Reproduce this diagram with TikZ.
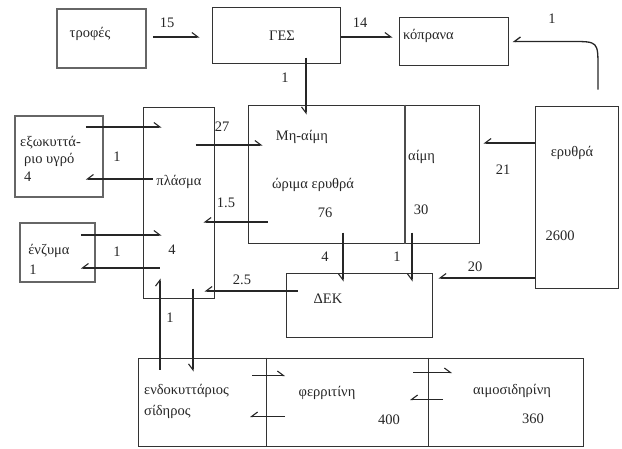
\documentclass[tikz,border=0pt]{standalone}
\usepackage{fontspec}
\setmainfont{Liberation Serif}
\usetikzlibrary{arrows.meta,calc}
\begin{document}
\begin{tikzpicture}[x=1pt,y=-1pt,
  box/.style={draw=black!80, line width=1pt, inner sep=0pt},
  gbox/.style={draw=black!60, line width=1.6pt, inner sep=0pt},
  arrL/.style={draw=black!85, line width=1.1pt, -{Straight Barb[harpoon,length=6pt,width=9pt]}},
  arrR/.style={draw=black!85, line width=1.1pt, -{Straight Barb[harpoon,swap,length=6pt,width=9pt]}},
  lab/.style={font=\fontsize{14.5}{16}\selectfont, inner sep=0pt, text=black!85}]
\useasboundingbox (0,0) rectangle (622,448);
% boxes
\node[gbox, minimum width=89pt, minimum height=59pt] (troph) at (101.5,38.5) {};
\node[box, minimum width=128pt, minimum height=56pt] (ges) at (276,35) {};
\node[box, minimum width=109pt, minimum height=48pt] (kop) at (453.5,41) {};
\node[gbox, minimum width=88pt, minimum height=81pt] (exo) at (59,156.5) {};
\node[box, minimum width=71pt, minimum height=191pt] (plasma) at (178.5,202.5) {};
\node[box, minimum width=231pt, minimum height=138pt] (big) at (363.5,174) {};
\node[gbox, minimum width=75pt, minimum height=59pt] (enz) at (57.5,252.5) {};
\node[box, minimum width=146pt, minimum height=64pt] (dek) at (359,305) {};
\node[box, minimum width=83pt, minimum height=182pt] (eryth) at (576.5,197) {};
\node[box, minimum width=445pt, minimum height=88pt] (bot) at (360.5,402) {};
% dividers
\draw[black!70, line width=1.6pt] (big.north -| 405,0) -- (big.south -| 405,0);
\coordinate (d1) at (bot.north -| 266,0);
\coordinate (d2) at (bot.north -| 428,0);
\draw[black!80, line width=1pt] (d1) -- (bot.south -| d1);
\draw[black!80, line width=1pt] (d2) -- (bot.south -| d2);
% texts
\node[lab] (tTroph) at (90,34) {τροφές};
\node[lab] (tGes) at (282,36) {ΓΕΣ};
\node[lab, anchor=west] (tKop) at (403,36) {κόπρανα};
\node[lab, anchor=west] (tExo1) at (20,143) {εξωκυττά-};
\node[lab, anchor=west] (tExo2) at (24,160) {ριο υγρό};
\node[lab, anchor=west] (tExo3) at (24,177) {4};
\node[lab] (tPlasma) at (179,182) {πλάσμα};
\node[lab] (tPl4) at (172,250) {4};
\node[lab] (tEnz) at (49,251) {ένζυμα};
\node[lab] (tEnz1) at (33,270) {1};
\node[lab] (tMh) at (302,137) {Μη-αίμη};
\node[lab] (tOr) at (313,185) {ώριμα ερυθρά};
\node[lab] (t76) at (325,213) {76};
\node[lab, anchor=west] (tAimi) at (408,157) {αίμη};
\node[lab] (t30) at (421,210) {30};
\node[lab] (tEr) at (572,153) {ερυθρά};
\node[lab] (t2600) at (560,236) {2600};
\node[lab] (tDek) at (328,299) {ΔΕΚ};
\node[lab, anchor=west] (tEnd1) at (144,391) {ενδοκυττάριος};
\node[lab, anchor=west] (tEnd2) at (144,412) {σίδηρος};
\node[lab] (tFer) at (327,393) {φερριτίνη};
\node[lab] (t400) at (389,420) {400};
\node[lab] (tAim) at (512,391) {αιμοσιδηρίνη};
\node[lab] (t360) at (533,419) {360};
% flow labels
\node[lab] (l15) at (167,23) {15};
\node[lab] (l14) at (360,23) {14};
\node[lab] (l1a) at (552,19) {1};
\node[lab] (l1b) at (285,78) {1};
\node[lab] (l27) at (222,127) {27};
\node[lab] (l1c) at (117,157) {1};
\node[lab] (l15b) at (226,203) {1.5};
\node[lab] (l1d) at (117,252) {1};
\node[lab] (l25) at (242,280) {2.5};
\node[lab] (l21) at (503,170) {21};
\node[lab] (l20) at (475,267) {20};
\node[lab] (l4) at (325,257) {4};
\node[lab] (l1e) at (397,257) {1};
\node[lab] (l1f) at (170,318) {1};
% connectors
\draw[arrL] ($(troph.east |- 0,37)+(6,0)$) -- ($(ges.west |- 0,37)+(-12,0)$);
\draw[arrL] (ges.east |- 0,37) -- ($(kop.west |- 0,37)+(-6,0)$);
\draw[arrR] ($(ges.south -| 306,0)+(0,-6)$) -- ($(big.north -| 306,0)+(0,10)$);
\coordinate (cv1) at ($(eryth.north -| 598,0)+(0,-16)$);
\coordinate (cv2) at (598,68);
\coordinate (cvc) at (598,41.5);
\coordinate (cv3) at (572,41.5);
\draw[arrR, line width=1.3pt] (cv1) -- (cv2) .. controls (cvc) .. (cv3) -- ($(kop.east |- 0,41.5)+(4,0)$);
\draw[arrL] ($(plasma.east |- 0,145)+(-19,0)$) -- ($(big.west |- 0,145)+(15,0)$);
\draw[arrR] ($(big.west |- 0,222)+(20,0)$) -- ($(plasma.east |- 0,222)+(-11,0)$);
\draw[arrL] ($(exo.east |- 0,127)+(-18,0)$) -- ($(plasma.west |- 0,127)+(19,0)$);
\draw[arrR] ($(plasma.west |- 0,179)+(10,0)$) -- ($(exo.east |- 0,179)+(-18,0)$);
\draw[arrL] ($(enz.east |- 0,235)+(-15,0)$) -- ($(plasma.west |- 0,235)+(19,0)$);
\draw[arrR] ($(plasma.west |- 0,268)+(17,0)$) -- ($(enz.east |- 0,268)+(-15,0)$);
\draw[arrR] ($(dek.west |- 0,291)+(12,0)$) -- ($(plasma.east |- 0,291)+(-10,0)$);
\draw[arrR] ($(big.south -| 343,0)+(0,-11)$) -- ($(dek.north -| 343,0)+(0,9)$);
\draw[arrR] ($(big.south -| 412,0)+(0,-11)$) -- ($(dek.north -| 412,0)+(0,9)$);
\draw[arrR] (eryth.west |- 0,143) -- ($(big.east |- 0,143)+(4,0)$);
\draw[arrR] (eryth.west |- 0,278) -- ($(dek.east |- 0,278)+(6,0)$);
\draw[arrL] ($(bot.north -| 160,0)+(0,12)$) -- ($(plasma.south -| 160,0)+(0,-20)$);
\draw[arrR] ($(plasma.south -| 193,0)+(0,-10)$) -- ($(bot.north -| 193,0)+(0,14)$);
\draw[arrL] ($(d1)+(-14,18)$) -- ($(d1)+(19,18)$);
\draw[arrR] ($(d1)+(19,59)$) -- ($(d1)+(-16,59)$);
\draw[arrL] ($(d2)+(-15,15)$) -- ($(d2)+(24,15)$);
\draw[arrR] ($(d2)+(15,42)$) -- ($(d2)+(-18,42)$);
\end{tikzpicture}
\end{document}
